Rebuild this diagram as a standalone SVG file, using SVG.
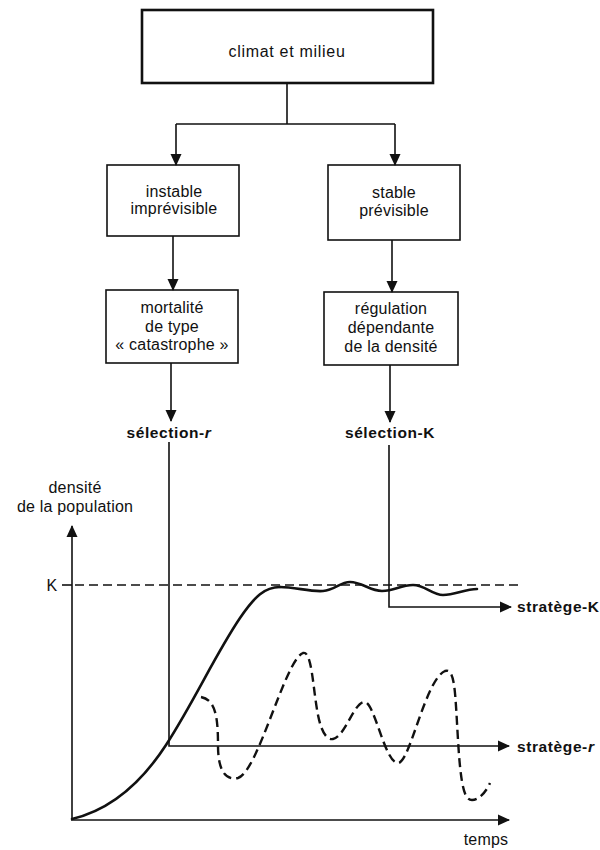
<svg xmlns="http://www.w3.org/2000/svg" width="600" height="850" viewBox="0 0 600 850">
<defs>
<style>
.box{fill:#fff;stroke:#111;stroke-width:1.6}
.t{font-family:"Liberation Sans",Arial,sans-serif;font-size:16px;fill:#111;text-anchor:middle;letter-spacing:0.2px}
.b{font-family:"Liberation Sans",Arial,sans-serif;font-size:15.5px;font-weight:bold;fill:#111;letter-spacing:0.6px}
.ln{fill:none;stroke:#111;stroke-width:1.6}
.ar{marker-end:url(#ah)}
.curve{fill:none;stroke:#111;stroke-width:2.6;stroke-linecap:round}
.dash{fill:none;stroke:#111;stroke-width:2.4;stroke-dasharray:9 5}
</style>
<marker id="ah" markerUnits="userSpaceOnUse" markerWidth="12" markerHeight="12" viewBox="0 0 12 12" refX="11" refY="6" orient="auto">
<path d="M0,0.5 L12,6 L0,11.5 Z" fill="#111"/>
</marker>
</defs>
<rect width="600" height="850" fill="#fff"/>

<g id="climat">
<rect x="142" y="10" width="291" height="73" fill="#fff" stroke="#111" stroke-width="2.6"/>
<text class="t" x="287" y="57" style="letter-spacing:0.7px">climat et milieu</text>
</g>
<g id="instable">
<rect class="box" x="107" y="165" width="132" height="71"/>
<text class="t" x="174" y="197">instable</text>
<text class="t" x="174" y="214">imprévisible</text>
</g>
<g id="stable">
<rect class="box" x="328" y="165" width="132" height="75"/>
<text class="t" x="394" y="198">stable</text>
<text class="t" x="394" y="216">prévisible</text>
</g>
<g id="mortalite">
<rect class="box" x="106" y="290" width="132" height="73"/>
<text class="t" x="172" y="313">mortalité</text>
<text class="t" x="172" y="332">de type</text>
<text class="t" x="172" y="350">« catastrophe »</text>
</g>
<g id="regulation">
<rect class="box" x="324" y="292" width="134" height="73"/>
<text class="t" x="391" y="314">régulation</text>
<text class="t" x="391" y="333">dépendante</text>
<text class="t" x="391" y="352">de la densité</text>
</g>
<g id="selection-r">
<text class="b" x="169" y="438" text-anchor="middle">sélection-<tspan font-style="italic">r</tspan></text>
</g>
<g id="selection-K">
<text class="b" x="390" y="438" text-anchor="middle">sélection-K</text>
</g>
<g id="strategie-K">
<text class="b" x="517" y="612">stratège-K</text>
</g>
<g id="strategie-r">
<text class="b" x="517" y="752">stratège-<tspan font-style="italic">r</tspan></text>
</g>
<g id="axes-labels">
<text class="t" x="75" y="493">densité</text>
<text class="t" x="75" y="512">de la population</text>
<text class="t" x="52" y="591">K</text>
<text class="t" x="486" y="845">temps</text>
</g>

<g id="connectors">
<path class="ln" d="M287 83 V124 M176 124 H395"/>
<path class="ln ar" d="M176 124 V165"/>
<path class="ln ar" d="M395 124 V165"/>
<path class="ln ar" d="M173 236 V290"/>
<path class="ln ar" d="M392 240 V292"/>
<path class="ln ar" d="M171 363 V421"/>
<path class="ln ar" d="M390 365 V422"/>
<path class="ln ar" d="M169 442 V746 H509"/>
<path class="ln ar" d="M389 445 V607 H511"/>
<path class="ln ar" d="M72 820 V526"/>
<path class="ln ar" d="M71 820 H509"/>
</g>

<g id="graph">
<path class="ln" d="M62 585 H72"/>
<path fill="none" stroke="#111" stroke-width="1.4" stroke-dasharray="9 5" d="M75 585 H518"/>
<path class="curve" d="M72 819 C110 810 140 785 166 745 C195 700 215 655 240 618 C255 596 265 587 280 587"/>
<path class="curve" d="M280 587 C295 587 310 592 323 591 C335 590 340 582 350 582 C362 582 370 591 382 591 C395 591 400 585 413 585 C425 585 432 595 443 595 C455 595 465 589 477 589"/>
<path class="dash" d="M201 697 C215 700 218 715 218 745 C218 775 228 780 238 778 C258 772 285 660 303 653 C312 650 313 690 318 715 C322 735 328 740 333 739 C345 737 355 700 365 702 C375 704 385 763 398 763 C410 763 425 680 445 671 C455 668 455 690 458 740 C461 790 465 800 472 800 C480 800 487 790 490 783"/>
</g>
</svg>
